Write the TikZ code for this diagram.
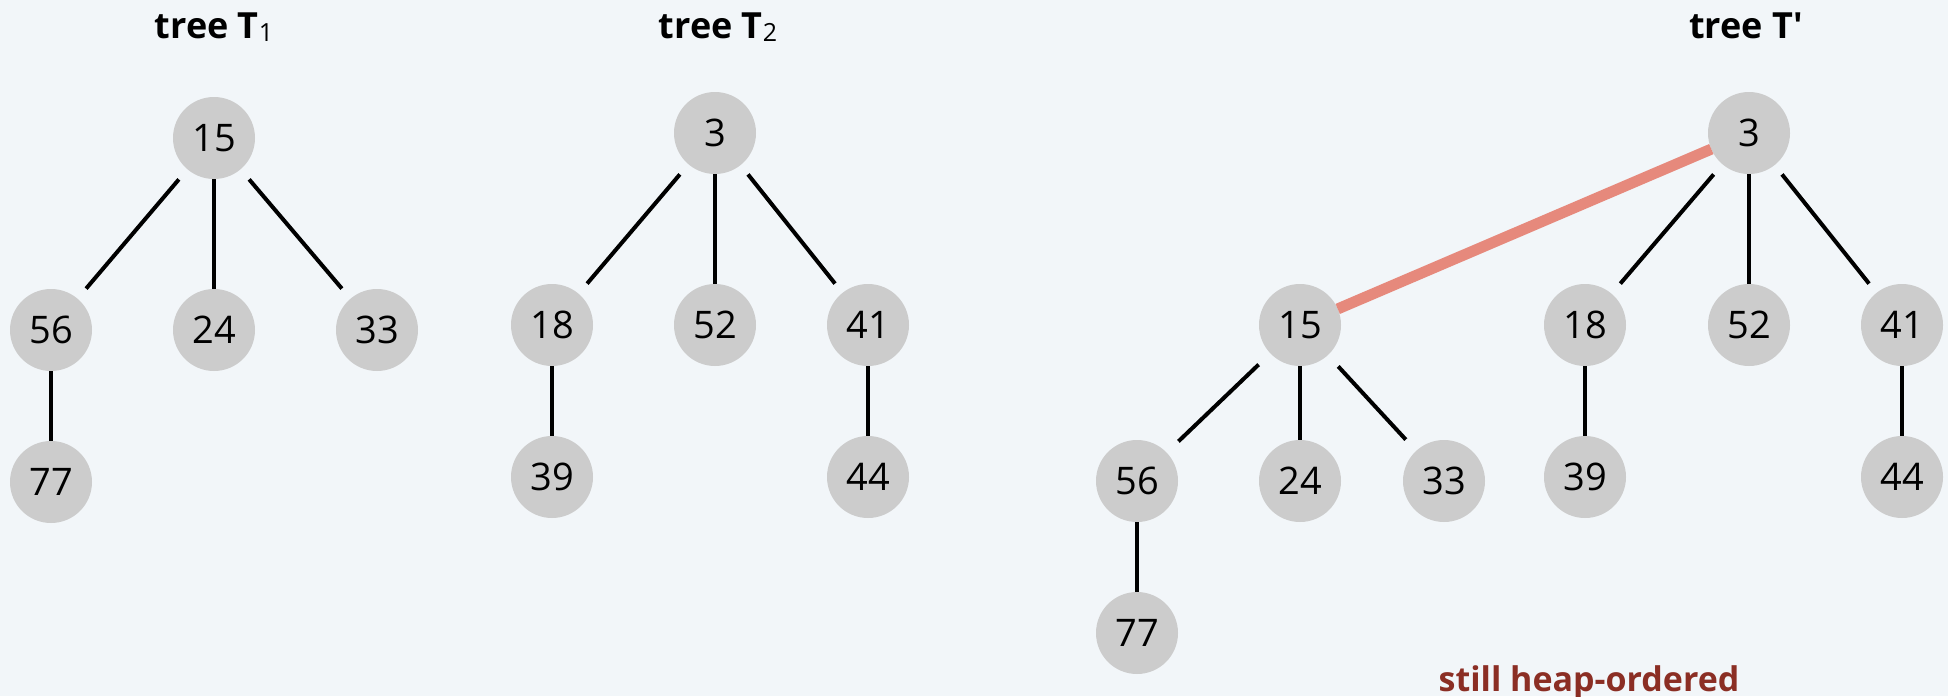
\documentclass[tikz,border=0pt]{standalone}
\usepackage{fontspec}
\setmainfont{Open Sans}
\definecolor{bgcol}{RGB}{242,246,249}
\definecolor{keygray}{RGB}{204,204,204}
\definecolor{linkred}{RGB}{228,118,103}
\definecolor{notered}{RGB}{139,46,36}
\newcommand{\tsub}[1]{\raisebox{-1.5pt}{\fontseries{m}\fontsize{12.5}{12.5}\selectfont #1}}

\begin{document}
\begin{tikzpicture}[x=0.5pt, y=-0.5pt,
    key/.style={rectangle, minimum size=41pt, inner sep=0pt,
        rounded corners=20.5pt, fill=keygray,
        font=\fontsize{19}{19}\selectfont},
    every child node/.style={key},
    edge from parent/.style={draw, black, line width=2pt},
    level distance=96pt,
    level 2/.style={level distance=76pt},
    title/.style={anchor=base, font=\bfseries\fontsize{18}{18}\selectfont},
    link/.style={draw=linkred, draw opacity=0.85, line width=5.5pt,
        shorten <=-2pt, shorten >=-2pt}]
    \useasboundingbox (0,0) rectangle (1948,696);
    \fill[bgcol] (0,0) rectangle (1948,696);

    % tree T1
    \node[title] (ttl1) at (214,39) {tree T\tsub{1}};
    \node[key] (a15) at (214,138) {15} [sibling distance=81.5pt]
        child { node (a56) {56}
            child { node (a77) {77}}
        }
        child { node (a24) {24}}
        child { node (a33) {33}}
    ;

    % tree T2
    \node[title] (ttl2) at (718,39) {tree T\tsub{2}};
    \node[key] (b3) at (715,133) {3} [sibling distance=81.5pt]
        child { node (b18) {18}
            child { node (b39) {39}}
        }
        child { node (b52) {52}}
        child[xshift=-5pt] { node (b41) {41}
            child { node (b44) {44}}
        }
    ;

    % tree T'
    \node[title] (ttl3) at (1746,39) {tree T\textquotesingle};
    \node[key] (c3) at (1749,133) {3} [sibling distance=82pt]
        child { node (c18) {18}
            child { node (c39) {39}}
        }
        child { node (c52) {52}}
        child[xshift=-5.5pt] { node (c41) {41}
            child { node (c44) {44}}
        }
    ;
    \node[key] (c15) at (1300,325) {15} [sibling distance=81.5pt, level distance=78pt]
        child { node (c56) {56}
            child { node (c77) {77}}
        }
        child { node (c24) {24}}
        child[xshift=-9.5pt] { node (c33) {33}}
    ;
    \draw[link] (c3) -- (c15);

    \node[anchor=base, text=notered, font=\bfseries\fontsize{17}{17}\selectfont]
        (note) at (1589,691) {still heap-ordered};
\end{tikzpicture}
\end{document}
